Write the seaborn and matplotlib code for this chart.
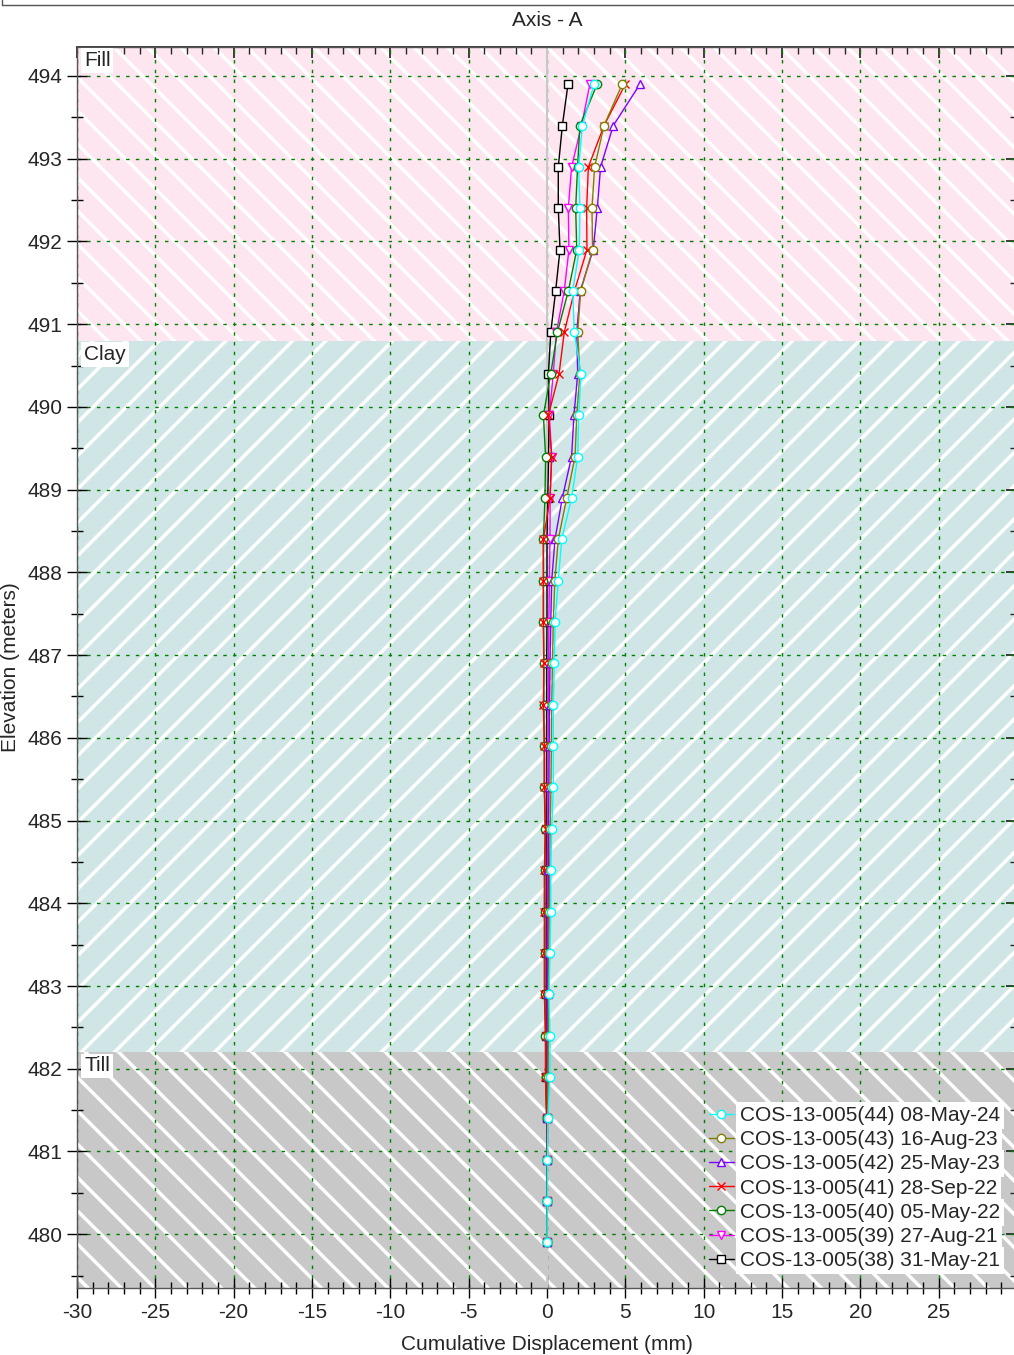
import matplotlib
matplotlib.use('Agg')
import matplotlib.pyplot as plt
import seaborn as sns
import pandas as pd
from matplotlib.lines import Line2D
from matplotlib.ticker import MultipleLocator

# Elevation of each reading (m), top to bottom
depths = [493.9, 493.4, 492.9, 492.4, 491.9, 491.4, 490.9, 490.4, 489.9, 489.4,
          488.9, 488.4, 487.9, 487.4, 486.9, 486.4, 485.9, 485.4, 484.9, 484.4,
          483.9, 483.4, 482.9, 482.4, 481.9, 481.4, 480.9, 480.4, 479.9]

# Cumulative displacement (mm) per survey
cos44 = [3.0, 2.26, 2.02, 2.1, 2.06, 1.64, 1.74, 2.17, 2.02, 1.96, 1.57, 0.94, 0.72, 0.51,
         0.47, 0.4, 0.4, 0.4, 0.3, 0.24, 0.24, 0.19, 0.13, 0.19, 0.19, 0.06, 0.03, 0.02, 0.0]
cos43 = [4.8, 3.64, 3.04, 2.87, 2.91, 2.15, 1.96, 2.1, 1.9, 1.79, 1.26, 0.72, 0.5, 0.4,
         0.35, 0.3, 0.28, 0.25, 0.2, 0.17, 0.14, 0.12, 0.1, 0.08, 0.06, 0.04, 0.02, 0.01, 0.0]
cos42 = [5.93, 4.23, 3.42, 3.21, 2.95, 2.12, 1.9, 1.96, 1.72, 1.57, 0.98, 0.51, 0.3, 0.24,
         0.19, 0.16, 0.14, 0.12, 0.1, 0.09, 0.08, 0.07, 0.06, 0.05, 0.04, 0.03, 0.02, 0.01, 0.0]
cos41 = [5.0, 3.64, 2.64, 2.53, 2.55, 1.75, 1.1, 0.77, 0.09, 0.3, 0.19, -0.23, -0.23, -0.23,
         -0.2, -0.23, -0.17, -0.17, -0.09, -0.17, -0.17, -0.17, -0.17, -0.09, -0.1, -0.02, 0.0, 0.0, 0.0]
cos40 = [3.2, 2.1, 1.95, 1.83, 1.9, 1.36, 0.66, 0.24, -0.23, -0.09, -0.13, -0.23, -0.23, -0.23,
         -0.2, -0.2, -0.17, -0.17, -0.12, -0.15, -0.15, -0.15, -0.15, -0.1, -0.08, -0.02, 0.0, 0.0, 0.0]
cos39 = [2.74, 2.2, 1.57, 1.36, 1.4, 1.1, 0.6, 0.4, 0.15, 0.3, 0.2, 0.19, 0.15, 0.12,
         0.1, 0.08, 0.06, 0.05, 0.04, 0.03, 0.03, 0.02, 0.02, 0.01, 0.01, 0.0, 0.0, 0.0, 0.0]
cos38 = [1.34, 0.98, 0.72, 0.72, 0.83, 0.55, 0.24, 0.09, 0.13, 0.1, 0.05, 0.0, 0.0, 0.0,
         -0.02, -0.02, -0.03, -0.03, -0.04, -0.05, -0.05, -0.05, -0.05, -0.05, -0.04, -0.02, 0.0, 0.0, 0.0]

labels = ['COS-13-005(44) 08-May-24', 'COS-13-005(43) 16-Aug-23', 'COS-13-005(42) 25-May-23',
          'COS-13-005(41) 28-Sep-22', 'COS-13-005(40) 05-May-22', 'COS-13-005(39) 27-Aug-21',
          'COS-13-005(38) 31-May-21']
series = [cos44, cos43, cos42, cos41, cos40, cos39, cos38]
colors = ['#00FFFF', '#808000', '#8000FF', '#FF0000', '#008000', '#FF00FF', '#000000']
markers = ['o', 'o', '^', 'x', 'o', 'v', 's']

# Soil layers: name, top, bottom, colour, hatch
layers = [('Fill', 494.35, 490.8, '#FDE6EF', '\\'),
          ('Clay', 490.8, 482.2, '#D0E6E6', '/'),
          ('Till', 482.2, 479.35, '#C8C8C8', '\\')]

sns.set_theme(style='ticks')
plt.rcParams['font.family'] = ['Liberation Sans', 'DejaVu Sans']
plt.rcParams['axes.unicode_minus'] = False
plt.rcParams['hatch.linewidth'] = 2.5

FS = 15

fig = plt.figure(figsize=(10.14, 13.55), dpi=100)
ax = fig.add_axes([77 / 1014, 1 - 1288 / 1355, 940 / 1014, 1241 / 1355])
ax.set_xlim(-30, 30)
ax.set_ylim(479.35, 494.35)

for name, top, bot, col, hatch in layers:
    ax.axhspan(bot, top, facecolor=col, edgecolor='white', hatch=hatch, linewidth=0, zorder=0)
    ax.text(-29.55, top - 0.05, name, fontsize=FS, va='top', ha='left', zorder=5,
            bbox=dict(facecolor='white', edgecolor='none', pad=2))

ax.axvline(0, color='#c8c8c8', lw=1.5, zorder=1)

# oldest first so the latest survey ends on top
for vals, lab, col, mk in reversed(list(zip(series, labels, colors, markers))):
    df = pd.DataFrame({'disp': vals, 'elev': depths})
    sns.lineplot(data=df, x='disp', y='elev', sort=False, estimator=None, ax=ax,
                 color=col, marker=mk, markersize=6, markerfacecolor='white',
                 markeredgecolor=col, markeredgewidth=1, linewidth=1, label=lab, zorder=3)

ax.xaxis.set_major_locator(MultipleLocator(5))
ax.xaxis.set_minor_locator(MultipleLocator(1))
ax.yaxis.set_major_locator(MultipleLocator(1))
ax.yaxis.set_minor_locator(MultipleLocator(0.5))
ax.set_xticks(range(-30, 30, 5))
ax.grid(True, which='major', color='#008000', linestyle=(0, (2.5, 4.5)), linewidth=1)
for gl in ax.get_xgridlines() + ax.get_ygridlines():
    gl.set_zorder(1.5)

ax.tick_params(which='major', direction='inout', length=14, width=1, labelsize=FS, color='black')
ax.tick_params(which='minor', direction='inout', length=8, width=1, color='black')
for s in ax.spines.values():
    s.set_color('#555555')
    s.set_linewidth(1)

sec_x = ax.secondary_xaxis('top')
sec_x.xaxis.set_major_locator(MultipleLocator(5))
sec_x.xaxis.set_minor_locator(MultipleLocator(1))
sec_x.tick_params(which='major', direction='in', length=8, labeltop=False)
sec_x.tick_params(which='minor', direction='in', length=5)
sec_y = ax.secondary_yaxis('right')
sec_y.yaxis.set_major_locator(MultipleLocator(1))
sec_y.yaxis.set_minor_locator(MultipleLocator(0.5))
sec_y.tick_params(which='major', direction='in', length=8, labelright=False)
sec_y.tick_params(which='minor', direction='in', length=5)

ax.set_xlabel('Cumulative Displacement (mm)', fontsize=FS, labelpad=10)
ax.set_ylabel('Elevation (meters)', fontsize=FS, labelpad=5)
ax.set_title('Axis - A', fontsize=FS, pad=15)

handles, labs = ax.get_legend_handles_labels()
leg = ax.legend(handles[::-1], labs[::-1], loc='lower right', bbox_to_anchor=(0.993, 0.006),
                frameon=False, fontsize=FS, handlelength=1.2, handletextpad=0.3,
                labelspacing=0.25, borderpad=0)
for t in leg.get_texts():
    t.set_bbox(dict(facecolor='white', edgecolor='none', pad=3))

# header frame edge from the source page
fig.add_artist(Line2D([2 / 1014, 1], [1 - 5 / 1355, 1 - 5 / 1355], transform=fig.transFigure,
                      color='#555555', lw=1))
fig.add_artist(Line2D([2 / 1014, 2 / 1014], [1 - 5 / 1355, 1], transform=fig.transFigure,
                      color='#555555', lw=1))

fig.savefig('out.png', dpi=100)
